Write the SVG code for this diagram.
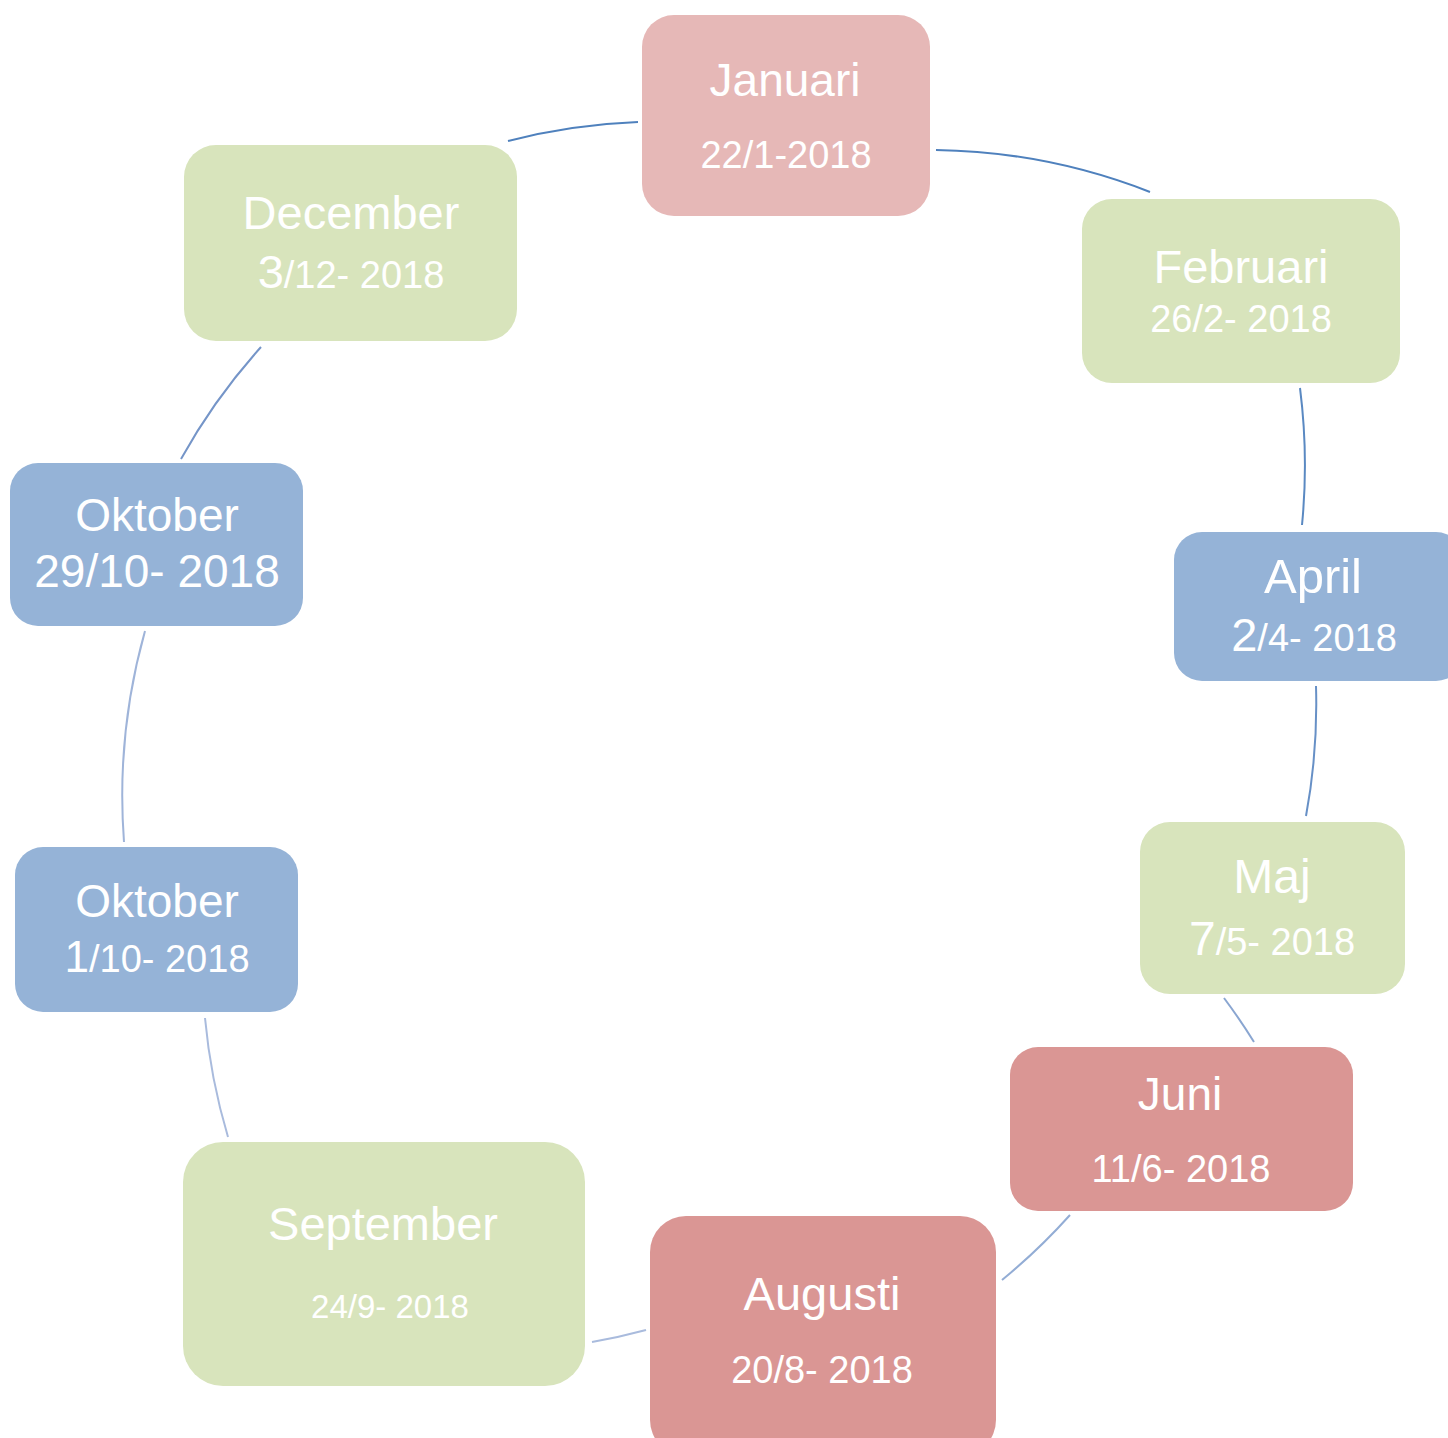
<svg xmlns="http://www.w3.org/2000/svg" width="1448" height="1438" viewBox="0 0 1448 1438">
<style>
.pink{fill:#E6B8B7}
.green{fill:#D8E4BC}
.blue{fill:#95B3D7}
.red{fill:#DA9694}
text{font-family:"Liberation Sans",Arial,sans-serif;fill:#FFFFFF;text-anchor:middle}
.c{fill:none;stroke-width:2}
</style>
<rect width="1448" height="1438" fill="#FFFFFF"/>
<g id="connectors">
<path class="c" stroke="#4F81BD" d="M508,141 A610,610 0 0 1 638,122"/>
<path class="c" stroke="#4F81BD" d="M936,150 A610,610 0 0 1 1150,192"/>
<path class="c" stroke="#5A89C2" d="M1300,388 A610,610 0 0 1 1302,525"/>
<path class="c" stroke="#6790C6" d="M1316,686 A610,610 0 0 1 1306,816"/>
<path class="c" stroke="#8AA6D1" d="M1224,998 A610,610 0 0 1 1254,1042"/>
<path class="c" stroke="#93ADD5" d="M1070,1215 A610,610 0 0 1 1002,1280"/>
<path class="c" stroke="#A9BBDD" d="M646,1330 A610,610 0 0 1 592,1342"/>
<path class="c" stroke="#A9BBDD" d="M228,1137 A610,610 0 0 1 205,1018"/>
<path class="c" stroke="#9FB4D9" d="M124,842 A610,610 0 0 1 145,631"/>
<path class="c" stroke="#7595C8" d="M181,459 A610,610 0 0 1 261,347"/>
</g>
<g id="januari">
<rect class="pink" x="642" y="15" width="288" height="201" rx="32"/>
<text x="785" y="96" font-size="46">Januari</text>
<text x="786" y="168" font-size="38">22/1-2018</text>
</g>
<g id="februari">
<rect class="green" x="1082" y="199" width="318" height="184" rx="30"/>
<text x="1241" y="283" font-size="47">Februari</text>
<text x="1241" y="332" font-size="38">26/2- 2018</text>
</g>
<g id="april">
<rect class="blue" x="1174" y="532" width="290" height="149" rx="28"/>
<text x="1313" y="593" font-size="49">April</text>
<text x="1314" y="651" font-size="38"><tspan font-size="47">2</tspan>/4- 2018</text>
</g>
<g id="maj">
<rect class="green" x="1140" y="822" width="265" height="172" rx="30"/>
<text x="1272" y="893" font-size="48">Maj</text>
<text x="1272" y="955" font-size="38"><tspan font-size="48">7</tspan>/5- 2018</text>
</g>
<g id="juni">
<rect class="red" x="1010" y="1047" width="343" height="164" rx="28"/>
<text x="1180" y="1110" font-size="46">Juni</text>
<text x="1181" y="1182" font-size="38">11/6- 2018</text>
</g>
<g id="augusti">
<rect class="red" x="650" y="1216" width="346" height="240" rx="36"/>
<text x="822" y="1310" font-size="47">Augusti</text>
<text x="822" y="1383" font-size="38">20/8- 2018</text>
</g>
<g id="september">
<rect class="green" x="183" y="1142" width="402" height="244" rx="40"/>
<text x="383" y="1240" font-size="47">September</text>
<text x="390" y="1318" font-size="33">24/9- 2018</text>
</g>
<g id="oktober-1">
<rect class="blue" x="15" y="847" width="283" height="165" rx="28"/>
<text x="157" y="917" font-size="46">Oktober</text>
<text x="157" y="972" font-size="38"><tspan font-size="44">1</tspan>/10- 2018</text>
</g>
<g id="oktober-29">
<rect class="blue" x="10" y="463" width="293" height="163" rx="28"/>
<text x="157" y="531" font-size="46">Oktober</text>
<text x="157" y="587" font-size="46">29/10- 2018</text>
</g>
<g id="december">
<rect class="green" x="184" y="145" width="333" height="196" rx="32"/>
<text x="351" y="229" font-size="47">December</text>
<text x="351" y="288" font-size="38"><tspan font-size="47">3</tspan>/12- 2018</text>
</g>
</svg>
